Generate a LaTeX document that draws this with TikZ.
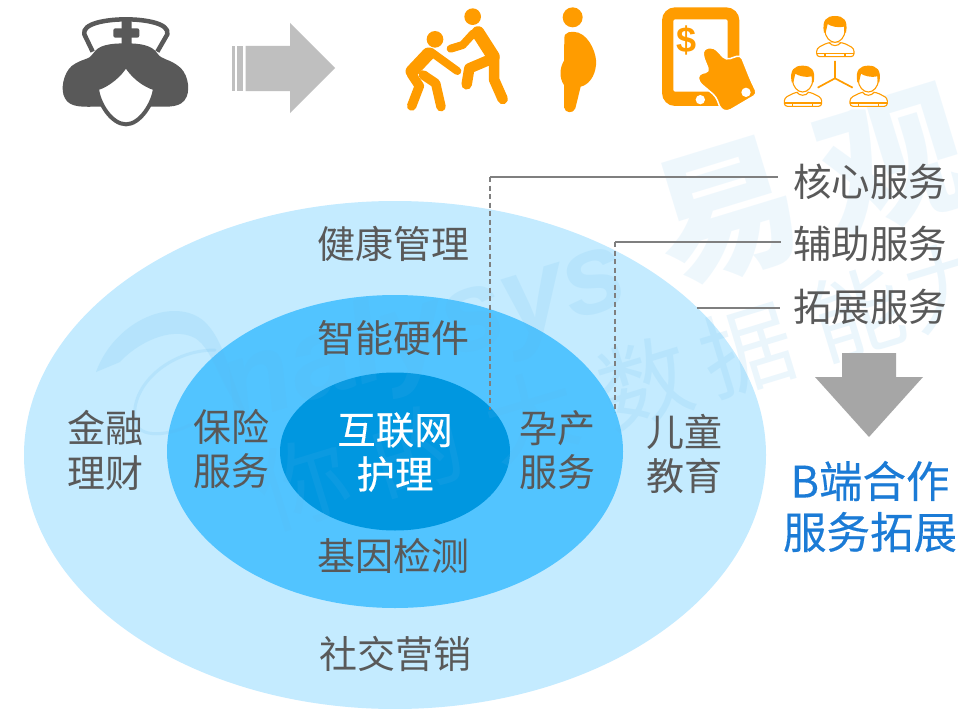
\documentclass[tikz,border=0pt]{standalone}
\usepackage{fontspec}
\setmainfont{Noto Sans CJK SC}
\newfontfamily\semiface[FakeBold=0.25]{Noto Sans CJK SC}
\newfontfamily\wmlatin{Liberation Sans}
\definecolor{outerC}{HTML}{C4EBFF}
\definecolor{midC}{HTML}{52C4FF}
\definecolor{innerC}{HTML}{0097E0}
\definecolor{txtC}{HTML}{595959}
\definecolor{orangeC}{HTML}{FF9C00}
\definecolor{blueC}{HTML}{1B7BD6}
\definecolor{lineC}{HTML}{7F7F7F}
\definecolor{wmC}{HTML}{5DB5EA}
\tikzset{
  lab/.style={font=\fontsize{38}{38}\selectfont,text=txtC,inner sep=0pt,align=center},
  side/.style={font=\fontsize{38.5}{38.5}\selectfont,text=txtC,inner sep=0pt},
  core/.style={font=\fontsize{38.5}{38.5}\semiface\selectfont,text=white,inner sep=0pt},
  bluelab/.style={font=\fontsize{43.5}{43.5}\semiface\selectfont,text=blueC,inner sep=0pt},
  leader/.style={draw=lineC,line width=1.2pt},
  dashleader/.style={draw=lineC,line width=1.1pt,dash pattern=on 5pt off 3.5pt},
  wm/.style={text=wmC,opacity=.12,inner sep=0pt,rotate=17},
  wmbig/.style={wm,opacity=.1,font=\fontsize{145}{145}\bfseries\selectfont},
  wmsmall/.style={wm,font=\fontsize{92}{92}\selectfont},
  limb/.style={draw=orangeC,line cap=round,line join=round},
  pers/.style={draw=orangeC,line width=1.1pt,fill=white,line join=round}
}
\newcommand{\personicon}[2]{%
 \begin{scope}[shift={(#1,#2)}]
  \draw[pers,rounded corners=3pt] (-55,170) -- (-55,145) -- (-22,128) -- (24,128) -- (57,145) -- (57,170) -- cycle;
  \draw[pers] (-55,160) -- (57,160) (-30,160)--(-30,170) (30,160)--(30,170);
  \draw[pers] (-18,127) .. controls (-10,140) and (10,140) .. (18,127);
  \draw[pers] (-30,90) .. controls (-30,112) and (-15,127) .. (0,127) .. controls (15,127) and (30,112) .. (30,90) -- (30,70) -- (-30,70) -- cycle;
  \fill[orangeC] (-33,98) .. controls (-40,60) and (-25,48) .. (0,48) .. controls (25,48) and (40,60) .. (33,98) -- (28,98) -- (27,80) .. controls (10,85) and (-15,78) .. (-22,72) -- (-28,98) -- cycle;
 \end{scope}}
\begin{document}
\begin{tikzpicture}[x=1pt,y=-1pt]
\useasboundingbox (0,0) rectangle (958,709);
\fill[white] (0,0) rectangle (958,709);
% ellipses
\fill[outerC] (395,455) ellipse [x radius=371,y radius=254];
\fill[midC] (395,451.5) ellipse [x radius=228,y radius=156.5];
\fill[innerC] (395,451.5) ellipse [x radius=115,y radius=79];
% watermark
\node[wmbig] (wmA) at (727,213) {易};
\node[wmbig] (wmB) at (893,163) {观};
\node[wm,font=\fontsize{114}{114}\wmlatin\bfseries\itshape\selectfont] (wmL) at (425,335) {nalysys};
\fill[wmC,opacity=.14] (96,372) .. controls (115,320) and (175,295) .. (205,322) .. controls (228,345) and (230,385) .. (250,420) .. controls (222,395) and (215,350) .. (195,338) .. controls (170,325) and (135,345) .. (120,362) -- cycle;
\draw[wmC,opacity=.14,line width=3pt,line cap=round] (215,350) .. controls (170,350) and (130,385) .. (135,420) .. controls (138,440) and (170,435) .. (190,425);
\node[wmsmall] (w1) at (303,483) {你};
\node[wmsmall] (w2) at (417,450) {的};
\node[wmsmall] (w3) at (531,416) {大};
\node[wmsmall] (w4) at (645,383) {数};
\node[wmsmall] (w5) at (747,350) {据};
\node[wmsmall] (w6) at (857,313) {能};
\node[wmsmall] (w7) at (950,285) {力};
% nurse
\begin{scope}[xshift=40pt,scale=1/3]
 \draw[txtC,line width=4.5pt,line join=round] (158,155) -- (133,103) .. controls (125,70) and (200,58) .. (258,58) .. controls (315,58) and (390,70) .. (382,103) -- (352,155);
 \fill[txtC,rounded corners=2pt] (245,60) rectangle (275,140);
 \fill[txtC,rounded corners=2pt] (220,85) rectangle (298,113);
 \fill[txtC] (258,130) .. controls (210,130) and (175,135) .. (160,160) .. controls (150,180) and (125,175) .. (95,198) .. controls (70,220) and (60,270) .. (75,295) .. controls (90,325) and (135,320) .. (175,320) -- (340,320) .. controls (385,320) and (425,325) .. (440,290) .. controls (452,260) and (440,215) .. (415,198) .. controls (385,175) and (365,180) .. (352,160) .. controls (335,135) and (300,130) .. (258,130) -- cycle;
 \draw[txtC,fill=white,line width=4pt] (171,265) .. controls (205,255) and (240,225) .. (258,195) .. controls (275,225) and (310,255) .. (345,265) .. controls (340,310) and (300,373) .. (258,373) .. controls (215,373) and (175,310) .. (171,265) -- cycle;
\end{scope}
% grey arrow
\fill[black!25] (245.5,46) -- (290,46) -- (290,23) -- (335,68) -- (290,113) -- (290,91) -- (245.5,91) -- cycle;
\fill[black!25] (232,46) rectangle (234.5,91);
\fill[black!25] (237,46) rectangle (243,91);
% two people, pregnant
\begin{scope}[xshift=390pt,scale=1/3]
 \fill[orangeC] (248,50) circle (25);
 \fill[orangeC] (135,118) circle (25);
 \fill[orangeC] (548,52) circle (30);
 \draw[limb,line width=13pt] (264,98) -- (310,170);
 \draw[limb,line width=8pt] (182,146) -- (218,135) -- (250,100);
 \draw[limb,line width=10.5pt] (312,170) -- (312,238) -- (338,297);
 \draw[limb,line width=10.5pt] (292,182) -- (238,205) -- (230,253);
 \draw[limb,line width=13pt] (115,162) -- (66,214);
 \draw[limb,line width=8pt] (122,155) -- (202,213);
 \draw[limb,line width=9.5pt] (64,222) -- (88,258) -- (65,318);
 \draw[limb,line width=9.5pt] (100,225) -- (137,250) -- (153,320);
 \fill[orangeC] (523,115) .. controls (522,95) and (545,92) .. (565,98) .. controls (600,110) and (622,165) .. (618,195) .. controls (615,230) and (595,255) .. (572,260) -- (556,325) .. controls (550,342) and (525,340) .. (522,322) -- (522,255) .. controls (508,235) and (508,205) .. (522,182) -- cycle;
\end{scope}
% tablet
\begin{scope}[xshift=650pt,scale=1/3]
 \fill[orangeC,rounded corners=13pt] (36,22) rectangle (268,318);
 \fill[white,rounded corners=2pt] (70,58) rectangle (233,275);
 \fill[white] (151,299) circle (14);
 \node[inner sep=0pt,text=orangeC,font=\fontsize{36}{36}\wmlatin\bfseries\selectfont] (dollar) at (111,120) {\$};
 \draw[fill=orangeC,draw=white,line width=1.5pt,rounded corners=4pt] (158,165) -- (162,145) -- (192,142) -- (228,180) -- (272,165) -- (300,235) -- (322,282) -- (232,335) -- (212,328) -- (198,290) -- (145,245) -- (145,222) -- (178,215) -- cycle;
 \fill[white] (288,277) circle (14);
 % people
 \personicon{555}{0}
 \personicon{458}{149}
 \personicon{655}{149}
 \draw[orangeC,line width=1.7pt] (555,235) -- (555,183) (555,235) -- (503,263) (555,235) -- (608,263);
\end{scope}
% connectors
\node[side] (core) at (870,182) {核心服务};
\node[side] (aux) at (870,244) {辅助服务};
\node[side] (ext) at (870,307) {拓展服务};
\coordinate (c1) at (490,177);
\coordinate (c1b) at (490,410);
\coordinate (c1e) at (778,177);
\coordinate (c2) at (615,242);
\coordinate (c2b) at (615,412);
\coordinate (c2e) at (781,242);
\coordinate (c3) at (697,308);
\coordinate (c3e) at (780,308);
\draw[leader] (c1) -- (c1e);
\draw[dashleader] (c1) -- (c1b);
\draw[leader] (c2) -- (c2e);
\draw[dashleader] (c2) -- (c2b);
\draw[leader] (c3) -- (c3e);
% down arrow
\fill[black!35] (842,353) -- (896,353) -- (896,377) -- (923,377) -- (869,437) -- (815,377) -- (842,377) -- cycle;
% labels
\node[lab] (n1) at (393,244) {健康管理};
\node[lab] (n2) at (393,338) {智能硬件};
\node[lab] (n3) at (393,556) {基因检测};
\node[lab] (n4) at (395,654) {社交营销};
\node[lab] (n5) at (105,428) {金融};
\node[lab] (n6) at (105,473) {理财};
\node[lab] (n7) at (231,427) {保险};
\node[lab] (n8) at (231,471) {服务};
\node[lab] (n9) at (557,428) {孕产};
\node[lab] (n10) at (557,472) {服务};
\node[lab] (n11) at (684,432) {儿童};
\node[lab] (n12) at (684,476) {教育};
\node[core] (n13) at (395,430) {互联网};
\node[core] (n14) at (395,474) {护理};
\node[bluelab] (n15) at (870,481) {B端合作};
\node[bluelab] (n16) at (870,532) {服务拓展};
\end{tikzpicture}
\end{document}
